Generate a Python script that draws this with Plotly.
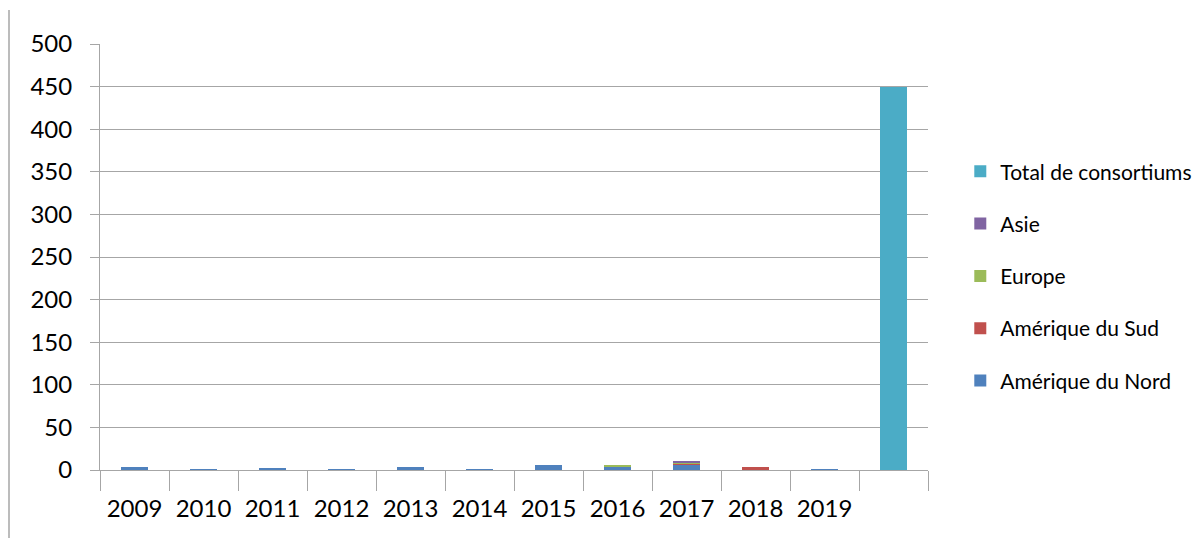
import plotly.graph_objects as go

categories = ["2009", "2010", "2011", "2012", "2013", "2014", "2015", "2016", "2017", "2018", "2019", " "]
amerique_nord = [3, 1, 2, 1, 3, 1, 6, 4, 7, 0, 1, 0]
amerique_sud = [0, 0, 0, 0, 0, 0, 0, 0, 1, 4, 0, 0]
europe = [0, 0, 0, 0, 0, 0, 0, 1, 1, 0, 0, 0]
asie = [0, 0, 0, 0, 0, 0, 0, 0, 1, 0, 0, 0]
total = [0, 0, 0, 0, 0, 0, 0, 0, 0, 0, 0, 450]

series = [
    ("Amérique du Nord", amerique_nord, "#4F81BD"),
    ("Amérique du Sud", amerique_sud, "#C0504D"),
    ("Europe", europe, "#9BBB59"),
    ("Asie", asie, "#8064A2"),
    ("Total de consortiums", total, "#4BACC6"),
]

fig = go.Figure()
n = len(series)
for i, (name, vals, col) in enumerate(series):
    fig.add_trace(go.Bar(
        x=categories, y=vals, name=name, marker_color=col,
        marker_line_width=0, legendgroup=f"g{i}", legendrank=(n - i) * 10,
    ))

L, R, T, B = 92, 283, 36, 76
plot_w = 1203 - L - R
fig.update_layout(
    barmode="stack",
    bargap=0.6,
    width=1203, height=538,
    margin=dict(l=L, r=R, t=T, b=B),
    paper_bgcolor="white", plot_bgcolor="white",
    font=dict(family="Lato, Open Sans, sans-serif", size=24, color="#000000"),
    legend=dict(
        x=1.039, y=0.455, xanchor="left", yanchor="middle",
        traceorder="grouped", tracegroupgap=22,
        font=dict(size=21), itemwidth=30,
    ),
    xaxis=dict(
        type="category", showline=True, linecolor="#A6A6A6", linewidth=1,
        ticks="outside", tickson="boundaries", ticklen=20, tickcolor="#A6A6A6",
        showgrid=False, range=[-0.5, 11.5], ticklabelstandoff=17,
    ),
    yaxis=dict(
        range=[0, 500], dtick=50, showline=True, linecolor="#A6A6A6", linewidth=1,
        ticks="outside", ticklen=9, tickcolor="#A6A6A6", ticklabelstandoff=13,
        showgrid=True, gridcolor="#A6A6A6", gridwidth=1, zeroline=False,
    ),
    shapes=[dict(type="line", xref="paper", yref="paper",
                 x0=(1 - L) / plot_w, x1=(1 - L) / plot_w, y0=-0.2, y1=1.08,
                 line=dict(color="#A6A6A6", width=1.5))],
)

fig.write_html("out.html")
